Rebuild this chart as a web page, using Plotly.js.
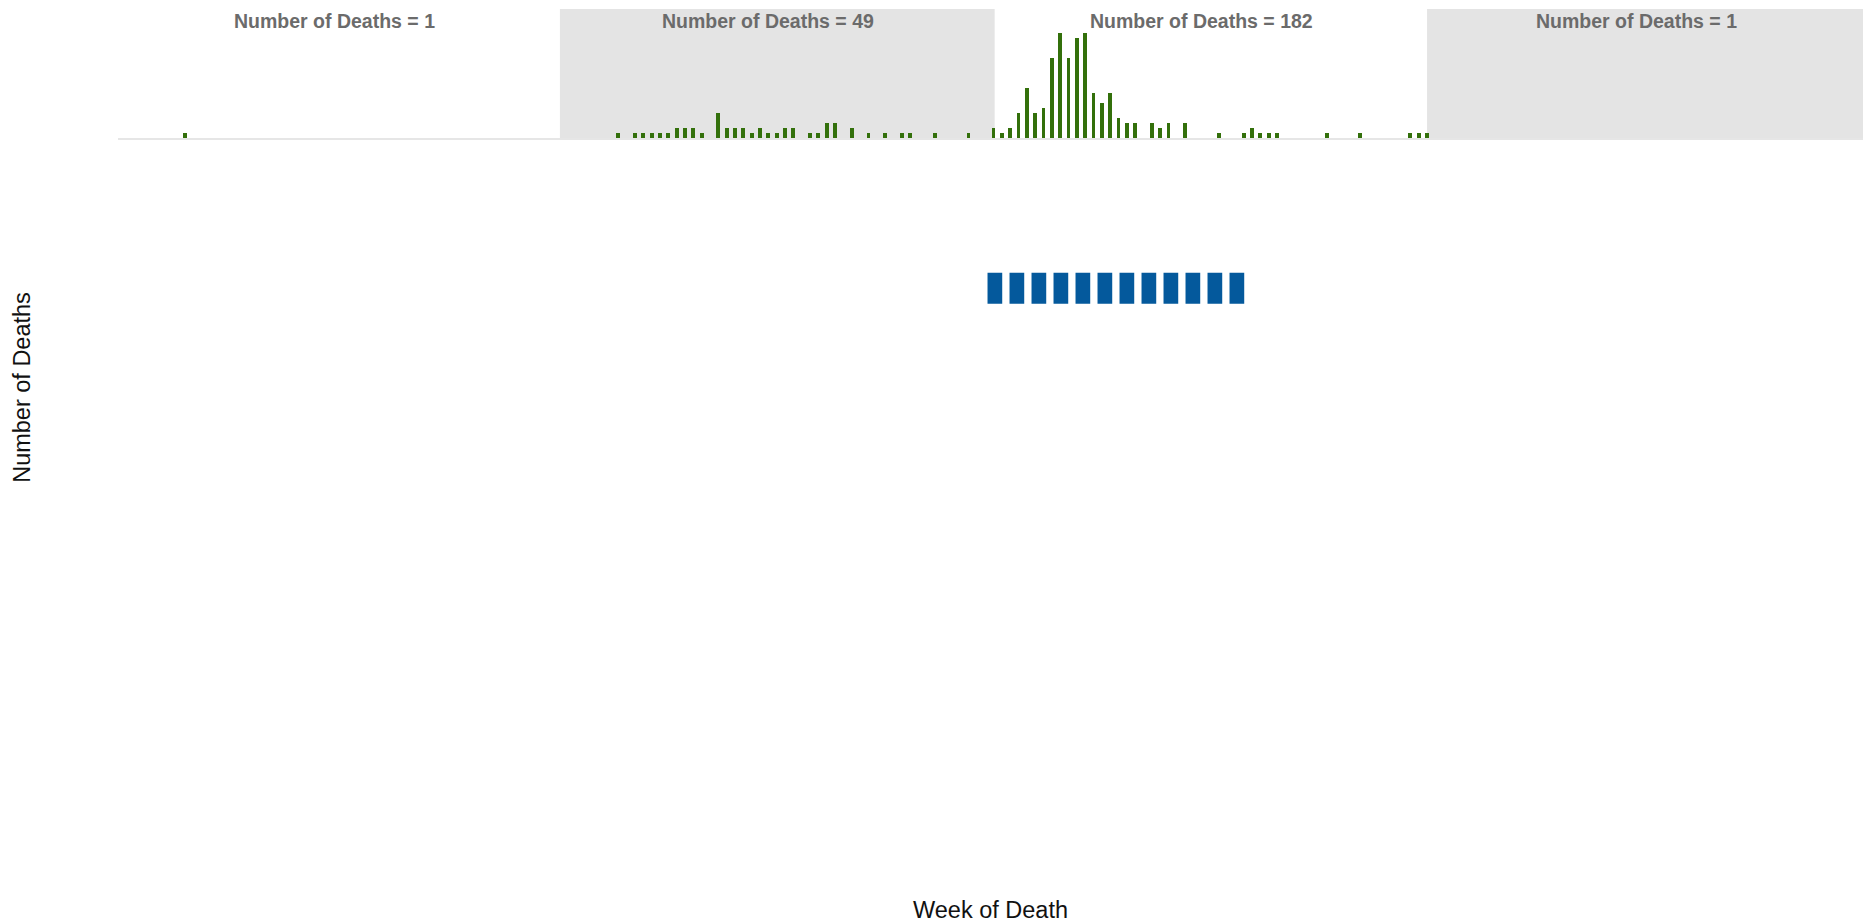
<!DOCTYPE html>
<html>
<head>
<meta charset="utf-8">
<script src="https://cdn.plot.ly/plotly-3.0.1.min.js"></script>
<style>
  html, body { margin: 0; padding: 0; background: #ffffff; }
  #chart { width: 1863px; height: 923px; }
</style>
</head>
<body>
<div id="chart"></div>
<script>
// ---- Data ----
const weekOfDeath = [
  '1917-02-19',
  '1918-02-18', '1918-03-04', '1918-03-11', '1918-03-18', '1918-03-25', '1918-04-01',
  '1918-04-08', '1918-04-15', '1918-04-22', '1918-04-29', '1918-05-13', '1918-05-20',
  '1918-05-27', '1918-06-03', '1918-06-10', '1918-06-17', '1918-06-24', '1918-07-01',
  '1918-07-08', '1918-07-15', '1918-07-29', '1918-08-05', '1918-08-12', '1918-08-19',
  '1918-09-02', '1918-09-16', '1918-09-30', '1918-10-14', '1918-10-21', '1918-11-11',
  '1918-12-09',
  '1918-12-30', '1919-01-06', '1919-01-13', '1919-01-20', '1919-01-27', '1919-02-03',
  '1919-02-10', '1919-02-17', '1919-02-24', '1919-03-03', '1919-03-10', '1919-03-17',
  '1919-03-24', '1919-03-31', '1919-04-07', '1919-04-14', '1919-04-21', '1919-04-28',
  '1919-05-12', '1919-05-19', '1919-05-26', '1919-06-09', '1919-07-07', '1919-07-28',
  '1919-08-04', '1919-08-11', '1919-08-18', '1919-08-25', '1919-10-06', '1919-11-03',
  '1919-12-15', '1919-12-22',
  '1919-12-29'
];
const numberOfDeaths = [
  1,
  1, 1, 1, 1, 1, 1,
  2, 2, 2, 1, 5, 2,
  2, 2, 1, 2, 1, 1,
  2, 2, 1, 1, 3, 3,
  2, 1, 1, 1, 1, 1,
  1,
  2, 1, 2, 5, 10, 5,
  6, 16, 21, 16, 20, 21,
  9, 7, 9, 4, 3, 3,
  3, 2, 3, 3, 1, 1,
  2, 1, 1, 1, 1, 1,
  1, 1,
  1
];

// Yearly panels
const panelStart  = ['1917-01-01', '1917-12-31', '1918-12-31', '1919-12-29'];
const panelEnd    = ['1917-12-31', '1918-12-31', '1919-12-29', '1920-12-29'];
const panelDeaths = [1, 49, 182, 1];
const panelShaded = [false, true, false, true];

// Dashed period marker
const periodDates = ['1918-12-25', '1919-07-29'];
const periodLevel = [63.1, 63.1];

const xRange = ['1916-12-25', '1920-12-29'];

// ---- Styles ----
const FONT = '"Liberation Sans", Arial, Helvetica, sans-serif';
const DAY = 86400000;

const bars = {
  type: 'bar',
  x: weekOfDeath,
  y: numberOfDeaths,
  xaxis: 'x', yaxis: 'y',
  width: 3.2 * DAY,
  marker: { color: '#33700b', line: { width: 0 } },
  hoverinfo: 'x+y'
};

const period = {
  type: 'scatter',
  mode: 'lines',
  x: periodDates,
  y: periodLevel,
  xaxis: 'x2', yaxis: 'y2',
  line: { color: '#04599c', width: 31, dash: '14.7px,7.3px' },
  hoverinfo: 'skip'
};

const shapes = [];
const annotations = [];
for (let i = 0; i < panelStart.length; i++) {
  if (panelShaded[i]) {
    shapes.push({
      type: 'rect', xref: 'x', yref: 'y domain',
      x0: panelStart[i], x1: panelEnd[i], y0: 0, y1: 1,
      fillcolor: '#e4e4e4', line: { width: 0 }, layer: 'below'
    });
  }
  const mid = new Date((Date.parse(panelStart[i]) + Date.parse(panelEnd[i])) / 2).toISOString();
  annotations.push({
    xref: 'x', yref: 'paper', x: mid, y: 1,
    xanchor: 'center', yanchor: 'top', xshift: -9, yshift: 1,
    showarrow: false,
    text: '<b>Number of Deaths = ' + panelDeaths[i] + '</b>',
    font: { family: FONT, size: 19.5, color: '#6b6b6b' }
  });
}

const hidden = { showgrid: false, zeroline: false, showticklabels: false, ticks: '' };

const layout = {
  width: 1863, height: 923,
  margin: { l: 118, r: 0, t: 9, b: 157, pad: 0 },
  paper_bgcolor: '#ffffff',
  plot_bgcolor: 'rgba(0,0,0,0)',
  showlegend: false,
  bargap: 0,
  font: { family: FONT, color: '#111111' },
  xaxis: Object.assign({}, hidden, {
    type: 'date', range: xRange, anchor: 'y',
    showline: true, linecolor: '#e6e6e6', linewidth: 2
  }),
  yaxis: Object.assign({}, hidden, {
    domain: [0.8292, 1], range: [0, 25.86], anchor: 'x', showline: false
  }),
  xaxis2: Object.assign({}, hidden, {
    type: 'date', range: xRange, matches: 'x', anchor: 'y2', showline: false,
    title: { text: 'Week of Death', font: { family: FONT, size: 23.5, color: '#111111' }, standoff: 135 }
  }),
  yaxis2: Object.assign({}, hidden, {
    domain: [0, 1], range: [0, 100], anchor: 'x2', showline: false,
    title: { text: 'Number of Deaths', font: { family: FONT, size: 23.5, color: '#111111' }, standoff: 79 }
  }),
  shapes: shapes,
  annotations: annotations
};

Plotly.newPlot('chart', [bars, period], layout, { displayModeBar: false, staticPlot: true });
</script>
</body>
</html>
